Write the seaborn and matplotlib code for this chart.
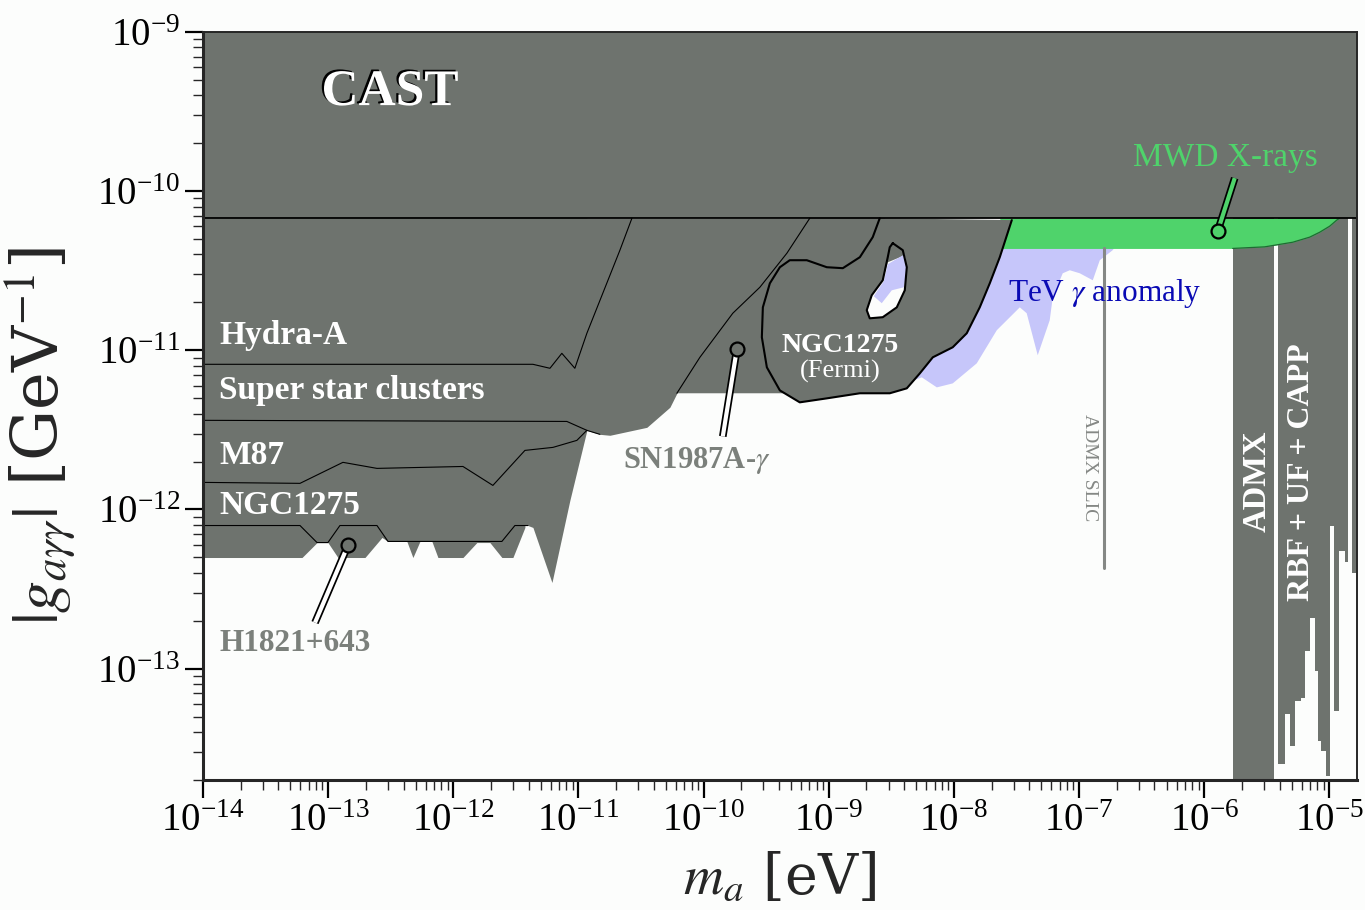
import numpy as np
import matplotlib
matplotlib.use("Agg")
import matplotlib.pyplot as plt
import matplotlib.patheffects as pe
from matplotlib.ticker import FixedLocator, NullFormatter, LogFormatterMathtext
import seaborn as sns

# ---------------- data (log10 of m_a [eV] and |g| [GeV^-1]) ----------------
x_lim_log = [-14.0, -4.78]
y_lim_log = [-13.70, -9.0]
x_decades = [-14, -13, -12, -11, -10, -9, -8, -7, -6, -5]
y_decades = [-13, -12, -11, -10, -9]
cast_g = -10.17

hydra_m = [-14.0, -11.364, -11.228, -11.133, -11.029, -10.933, -10.669, -10.573]
hydra_g = [-11.088, -11.088, -11.113, -11.019, -11.113, -10.893, -10.371, -10.17]

ssc_m = [-14.0, -11.093, -10.933, -10.829, -10.749, -10.454, -10.270, -10.214]
ssc_g = [-11.440, -11.447, -11.503, -11.528, -11.534, -11.484, -11.358, -11.270]

sn_m = [-10.214, -10.030, -9.767, -9.551, -9.335, -9.152]
sn_g = [-11.270, -11.044, -10.767, -10.604, -10.390, -10.17]
sn_close_m = [-8.55, -8.55, -9.30]
sn_close_g = [-10.17, -10.60, -11.27]

m87_m = [-14.0, -13.225, -12.882, -12.610, -11.923, -11.684, -11.428, -11.204, -11.013, -10.933]
m87_g = [-11.830, -11.836, -11.704, -11.742, -11.730, -11.849, -11.629, -11.610, -11.566, -11.503]

ngc_m = [-14.0, -13.225, -13.089, -13.002, -12.906, -12.610, -12.522, -11.612, -11.508, -11.404,
         -11.364, -11.212, -11.069, -10.933]
ngc_g = [-12.101, -12.101, -12.208, -12.208, -12.101, -12.101, -12.201, -12.201, -12.101, -12.101,
         -12.113, -12.459, -11.943, -11.503]

h1821_m = [-14.0, -13.209, -13.089, -13.002, -12.922, -12.706, -12.570, -12.522, -12.371, -12.323,
           -12.267, -12.171, -12.123, -11.923, -11.812, -11.708, -11.612, -11.524, -11.428]
h1821_g = [-12.302, -12.302, -12.208, -12.208, -12.302, -12.302, -12.176, -12.201, -12.201, -12.302,
           -12.201, -12.201, -12.302, -12.302, -12.208, -12.208, -12.302, -12.302, -12.113]

fermi_m = [-8.593, -8.649, -8.752, -8.888, -9.016, -9.176, -9.312, -9.391, -9.471, -9.527, -9.535,
           -9.495, -9.391, -9.232, -9.016, -8.752, -8.513, -8.377, -8.273, -8.169, -8.010, -7.898,
           -7.794, -7.714, -7.634, -7.538]
fermi_g = [-10.170, -10.289, -10.415, -10.484, -10.478, -10.434, -10.434, -10.478, -10.579, -10.730,
           -10.918, -11.107, -11.252, -11.327, -11.302, -11.270, -11.270, -11.239, -11.145, -11.044,
           -10.981, -10.893, -10.730, -10.579, -10.415, -10.182]

island_m = [-8.489, -8.409, -8.377, -8.393, -8.457, -8.569, -8.673, -8.697, -8.657, -8.569, -8.529, -8.513, -8.489]
island_g = [-10.327, -10.371, -10.478, -10.623, -10.730, -10.792, -10.799, -10.748, -10.654, -10.560, -10.415, -10.352, -10.327]

hole_m = [-8.529, -8.393, -8.377, -8.393, -8.457, -8.569, -8.673, -8.697, -8.657, -8.569]
hole_g = [-10.447, -10.403, -10.497, -10.623, -10.730, -10.792, -10.799, -10.748, -10.654, -10.560]

hole_tev_m = [-8.529, -8.393, -8.377, -8.401, -8.497, -8.577, -8.641, -8.561]
hole_tev_g = [-10.459, -10.396, -10.509, -10.604, -10.623, -10.704, -10.660, -10.566]

tev_m = [-8.433, -8.257, -8.137, -8.010, -7.818, -7.658, -7.474, -7.419, -7.331, -7.235, -7.211,
         -7.131, -7.075, -6.995, -6.891, -6.835, -6.732, -6.708, -7.634, -8.433]
tev_g = [-11.220, -11.170, -11.233, -11.208, -11.082, -10.874, -10.730, -10.767, -11.031, -10.811,
         -10.667, -10.516, -10.497, -10.516, -10.560, -10.434, -10.371, -10.346, -10.346, -10.686]

mwd_m = [-7.634, -5.773, -5.518, -5.294, -5.158, -5.078, -4.998, -4.942, -4.918]
mwd_g = [-10.36, -10.36, -10.35, -10.321, -10.289, -10.258, -10.220, -10.182, -10.17]

admx_m = [-5.773, -5.446]

slic_m = -6.803
slic_g = [-12.365, -10.36]

rbf_m = [-5.414, -5.358, -5.318, -5.278, -5.230, -5.198, -5.158, -5.118, -5.094, -5.070, -5.030,
         -4.998, -4.966, -4.927, -4.879, -4.855]
rbf_g = [-13.597, -13.283, -13.484, -13.201, -13.182, -12.887, -12.679, -13.013, -13.453, -13.516,
         -13.673, -12.101, -13.264, -12.258, -12.333, -12.333]
edge_m = [-4.823, -4.78]
edge_g = -12.40

h1821_pin = ([-12.842, -13.105], [-12.226, -12.711])
sn_pin = ([-9.735, -9.847], [-10.994, -11.541])
mwd_pin = ([-5.893, -5.757], [-10.252, -9.918])

# ---------------- style ----------------
GRAY = "#6e736e"
PURPLE = "#c6c6fa"
GREEN = "#4fd36b"
BG = "#fcfdfc"
LABELGRAY = "#7b807b"

sns.set_style("ticks")
plt.rcParams["font.family"] = ["Liberation Serif", "DejaVu Serif"]
plt.rcParams["mathtext.fontset"] = "stix"

fig = plt.figure(figsize=(13.65, 9.1), dpi=100, facecolor=BG)
ax = fig.add_axes([203 / 1365, 1 - 780 / 910, (1357 - 203) / 1365, (780 - 32) / 910])
ax.set_facecolor(BG)
ax.set_xscale("log")
ax.set_yscale("log")


def P(a):
    return 10.0 ** np.asarray(a, dtype=float)


xmin, xmax = P(x_lim_log)
ymin, ymax = P(y_lim_log)
CAST = P(cast_g)

# TeV anomaly (under everything)
ax.fill(P(tev_m), P(tev_g), color=PURPLE, lw=0, zorder=1)

# haloscopes
ax.fill_between(P(admx_m), ymin, CAST, color=GRAY, lw=0, zorder=1.5)
ax.fill_between(P(rbf_m), P(rbf_g), CAST, step="post", color=GRAY, lw=0, zorder=1.5)
ax.fill_between(P(edge_m), P(edge_g), CAST, color=GRAY, lw=0, zorder=1.5)

# MWD X-rays
ax.fill_between(P(mwd_m), P(mwd_g), CAST, color=GREEN, lw=0, zorder=2)
sns.lineplot(x=P(mwd_m[1:]), y=P(mwd_g[1:]), ax=ax, color="#1f6b33", lw=0.9, sort=False,
             estimator=None, zorder=2.1)

# astrophysical bounds (gray)
ax.fill_between(P(x_lim_log), CAST, ymax, color=GRAY, lw=0, zorder=3)
ax.fill_between(P(hydra_m), P(hydra_g), CAST, color=GRAY, lw=0, zorder=3)
ax.fill_between(P(ssc_m + sn_m[1:]), P(ssc_g + sn_g[1:]), CAST, color=GRAY, lw=0, zorder=3)
ax.fill(P(sn_m + sn_close_m), P(sn_g + sn_close_g), color=GRAY, lw=0, zorder=3)
ax.fill_between(P(m87_m), P(m87_g), CAST, color=GRAY, lw=0, zorder=3)
ax.fill_between(P(ngc_m), P(ngc_g), CAST, color=GRAY, lw=0, zorder=3)
ax.fill_between(P(h1821_m), P(h1821_g), P(-12.0), color=GRAY, lw=0, zorder=3)
ax.fill(P(fermi_m), P(fermi_g), color=GRAY, lw=0, zorder=3)

# hole in the Fermi region
ax.fill(P(hole_m), P(hole_g), color=BG, lw=0, zorder=4)
ax.fill(P(hole_tev_m), P(hole_tev_g), color=PURPLE, lw=0, zorder=4.5)

# boundary lines
thin = dict(ax=ax, color="black", lw=0.8, sort=False, estimator=None, zorder=6)
sns.lineplot(x=P(hydra_m), y=P(hydra_g), **thin)
sns.lineplot(x=P(ssc_m[:4]), y=P(ssc_g[:4]), **thin)
sns.lineplot(x=P(sn_m), y=P(sn_g), **thin)
sns.lineplot(x=P(m87_m), y=P(m87_g), **thin)
sns.lineplot(x=P(ngc_m[:10]), y=P(ngc_g[:10]), **thin)
thick = dict(ax=ax, color="black", lw=1.5, sort=False, estimator=None, zorder=6)
sns.lineplot(x=P(fermi_m), y=P(fermi_g), **thick)
sns.lineplot(x=P(island_m), y=P(island_g), **thick)
ax.plot(P(x_lim_log), [CAST, CAST], color="black", lw=1.3, zorder=6)

# ADMX SLIC
ax.plot([P(slic_m)] * 2, P(slic_g), color="#858885", lw=2.2, zorder=6)


# pointers
def pin(pts, inner, face):
    ax.plot(P(pts[0]), P(pts[1]), color="black", lw=5.5, solid_capstyle="butt", zorder=7)
    ax.plot(P(pts[0]), P(pts[1]), color=inner, lw=3.0, solid_capstyle="butt", zorder=7.1)
    ax.plot(P(pts[0][0]), P(pts[1][0]), "o", ms=10, mfc=face, mec="black", mew=1.6, zorder=7.2)


pin(h1821_pin, "white", GRAY)
pin(sn_pin, "white", GRAY)
pin(mwd_pin, GREEN, GREEN)

# labels
shadow = [pe.SimplePatchShadow(offset=(-1.6, 1.2), shadow_rgbFace="black", alpha=1.0), pe.Normal()]
ax.text(P(-12.506), P(-9.384), "CAST", color="white", fontsize=37, fontweight="bold",
        ha="center", va="center", path_effects=shadow, zorder=8)

lab = dict(color="white", fontsize=24, fontweight="bold", ha="left", va="center", zorder=8)
ax.text(P(-13.872), P(-10.906), "Hydra-A", **lab)
ax.text(P(-13.872), P(-11.252), "Super star clusters", **lab)
ax.text(P(-13.872), P(-11.660), "M87", **lab)
ax.text(P(-13.872), P(-11.975), "NGC1275", **lab)
ax.text(P(-13.872), P(-12.843), "H1821+643", color=LABELGRAY, fontsize=22.5, fontweight="bold",
        ha="left", va="center", zorder=8)
ax.text(P(-10.054), P(-11.692), r"SN1987A-$\gamma$", color=LABELGRAY, fontsize=22,
        fontweight="bold", ha="center", va="center", zorder=8)
ax.text(P(-8.912), P(-10.969), "NGC1275", color="white", fontsize=20, fontweight="bold",
        ha="center", va="center", zorder=8)
ax.text(P(-8.912), P(-11.132), "(Fermi)", color="white", fontsize=19,
        ha="center", va="center", zorder=8)
ax.text(P(-7.570), P(-10.642), r"TeV $\gamma$ anomaly", color="#0a0ab4", fontsize=22.5,
        ha="left", va="center", zorder=8)
ax.text(P(-5.829), P(-9.792), "MWD X-rays", color=GREEN, fontsize=24,
        ha="center", va="center", zorder=8)
ax.text(P(-5.581), P(-11.824), "ADMX", color="white", fontsize=23.5, fontweight="bold",
        rotation=90, ha="center", va="center", zorder=8)
ax.text(P(-5.222), P(-11.767), "RBF + UF + CAPP", color="white", fontsize=23, fontweight="bold",
        rotation=90, ha="center", va="center", zorder=8)
ax.text(P(-6.915), P(-11.736), "ADMX SLIC", color="#858885", fontsize=14,
        rotation=-90, ha="center", va="center", zorder=8)

# axes
ax.set_xlim(xmin, xmax)
ax.set_ylim(ymin, ymax)
x_minor = [k * 10.0 ** d for d in x_decades for k in range(2, 10) if k * 10.0 ** d < xmax]
y_minor = [k * 10.0 ** d for d in [-14] + y_decades[:-1] for k in range(2, 10) if k * 10.0 ** d > ymin]
ax.xaxis.set_major_locator(FixedLocator(P(x_decades)))
ax.yaxis.set_major_locator(FixedLocator(P(y_decades)))
ax.xaxis.set_minor_locator(FixedLocator(x_minor))
ax.yaxis.set_minor_locator(FixedLocator(y_minor))
for axis in (ax.xaxis, ax.yaxis):
    axis.set_minor_formatter(NullFormatter())
    axis.set_major_formatter(LogFormatterMathtext())
ax.tick_params(which="major", direction="out", length=13, width=1.6, labelsize=28, colors="black")
ax.tick_params(which="minor", direction="out", length=7, width=1.0)
for s in ax.spines.values():
    s.set_linewidth(1.4)
    s.set_zorder(10)
ax.spines["left"].set_linewidth(2.2)
ax.spines["bottom"].set_linewidth(2.2)

ax.set_xlabel(r"$m_a$ [eV]", fontsize=40, family="DejaVu Serif", labelpad=8)
ax.set_ylabel(r"$|g_{a\gamma\gamma}|$ [GeV$^{-1}$]", fontsize=46, family="DejaVu Serif")
ax.yaxis.set_label_coords(-0.108, 0.46)

fig.savefig("out.png", dpi=100, facecolor=BG)
